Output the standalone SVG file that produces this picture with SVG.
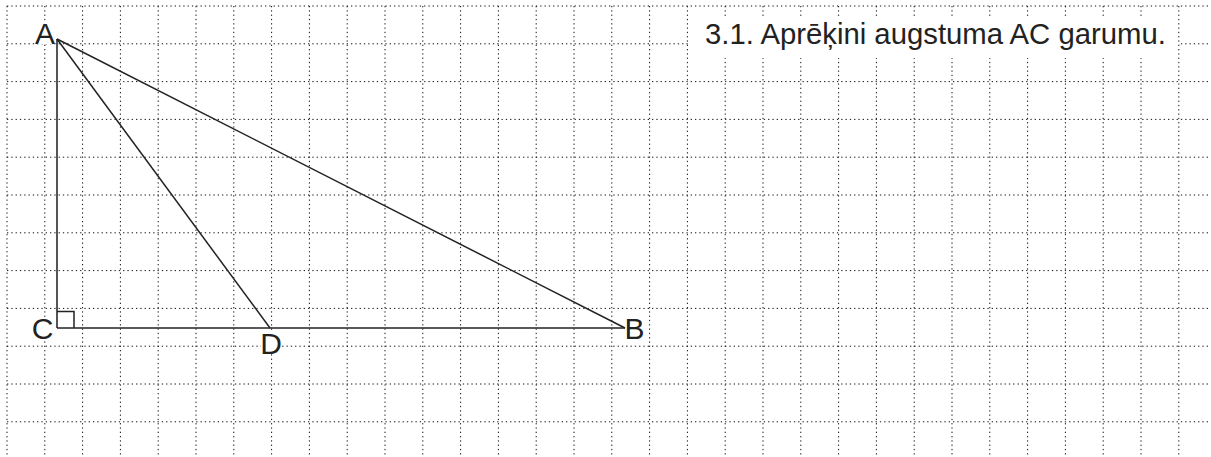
<svg xmlns="http://www.w3.org/2000/svg" width="1211" height="457" viewBox="0 0 1211 457">
<style>
.grid{stroke:#111;stroke-width:1;stroke-dasharray:1.3 3;fill:none}
.seg{stroke:#222;stroke-width:1.5;fill:none}
.leg{stroke:#555;stroke-width:2;fill:none}
.lbl{font-family:"Liberation Sans",Arial,sans-serif;font-size:30px;fill:#222;text-anchor:middle}
.title{font-family:"Liberation Sans",Arial,sans-serif;font-size:29.3px;fill:#222}
.bg{fill:#fff}
</style>
<rect width="1211" height="457" fill="#fff"/>
<g id="grid" class="grid">
<path d="M7 6V457M44.8 6V457M82.6 6V457M120.4 6V457M158.2 6V457M196 6V457M233.8 6V457M271.6 6V457M309.4 6V457M347.2 6V457M385 6V457M422.8 6V457M460.6 6V457M498.4 6V457M536.2 6V457M574 6V457M611.8 6V457M649.6 6V457M687.4 6V457M725.2 6V457M763 6V457M800.8 6V457M838.6 6V457M876.4 6V457M914.2 6V457M952 6V457M989.8 6V457M1027.6 6V457M1065.4 6V457M1103.2 6V457M1141 6V457M1178.8 6V457"/>
<path d="M7 6H1211M7 43.8H1211M7 81.6H1211M7 119.4H1211M7 157.2H1211M7 195H1211M7 232.8H1211M7 270.6H1211M7 308.4H1211M7 346.2H1211M7 384H1211M7 421.8H1211"/>
</g>
<g id="task">
<rect class="bg" x="689" y="17" width="489" height="41"/>
<text class="title" x="705" y="44">3.1. Aprēķini augstuma AC garumu.</text>
</g>
<g id="connectors">
<line id="AC" class="leg" x1="57" y1="39" x2="57" y2="328"/>
<line id="CB" class="seg" x1="57" y1="328" x2="625" y2="328"/>
<line id="AB" class="seg" x1="57" y1="39" x2="625" y2="328"/>
<line id="AD" class="seg" x1="57" y1="39" x2="270" y2="328"/>
<path id="right-angle" class="seg" d="M57 311.5H74V328"/>
</g>
<g id="node-A">
<rect class="bg" x="35" y="23" width="20" height="21"/>
<text class="lbl" x="45" y="44">A</text>
</g>
<g id="node-C">
<rect class="bg" x="31" y="317" width="23" height="24"/>
<text class="lbl" x="42.5" y="338.5">C</text>
</g>
<g id="node-D">
<rect class="bg" x="261" y="332" width="21" height="22"/>
<text class="lbl" x="271" y="353.5">D</text>
</g>
<g id="node-B">
<text class="lbl" x="634.5" y="338.5">B</text>
</g>
</svg>
